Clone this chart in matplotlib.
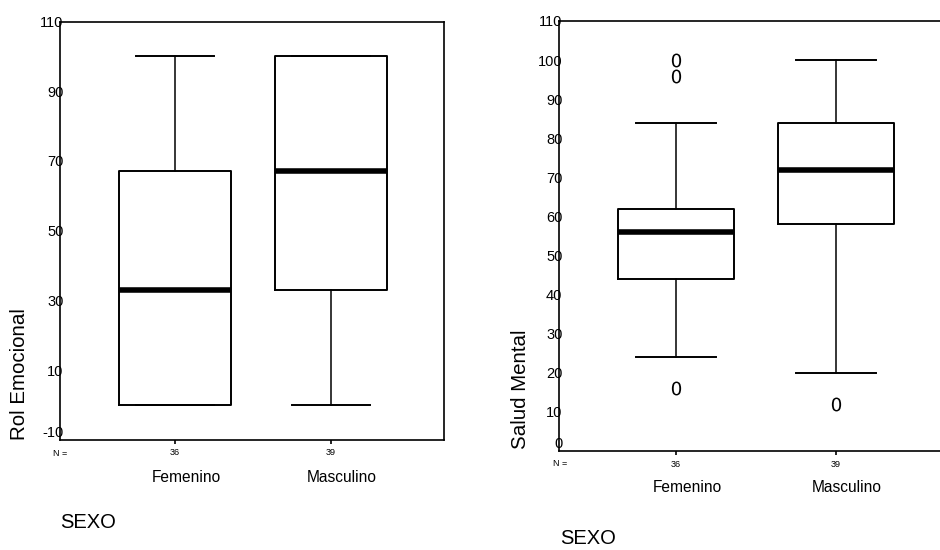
import matplotlib
matplotlib.use("Agg")
import matplotlib.pyplot as plt

plt.rcParams['font.family'] = ['Liberation Sans', 'DejaVu Sans']

categories = ["Femenino", "Masculino"]
n_counts = ["36", "39"]

# Rol Emocional box statistics
rol_q1 = [0, 33]
rol_med = [33, 67]
rol_q3 = [67, 100]
rol_lo = [0, 0]
rol_hi = [100, 100]
rol_fliers = [[], []]
rol_yticks = [-10, 10, 30, 50, 70, 90, 110]

# Salud Mental box statistics
sal_q1 = [44, 58]
sal_med = [56, 72]
sal_q3 = [62, 84]
sal_lo = [24, 20]
sal_hi = [84, 100]
sal_fliers = [[100, 96, 16], [12]]
sal_yticks = [0, 10, 20, 30, 40, 50, 60, 70, 80, 90, 100, 110]


def stats(q1, med, q3, lo, hi, fl):
    return [dict(q1=q1[i], med=med[i], q3=q3[i], whislo=lo[i], whishi=hi[i],
                 fliers=fl[i], label=categories[i]) for i in range(len(q1))]


fig = plt.figure(figsize=(9.4, 5.5), dpi=100)
W, H = 940, 550


def make_axes(l, r, t, b):
    return fig.add_axes([l / W, 1 - b / H, (r - l) / W, (b - t) / H])


ax1 = make_axes(60, 444, 21.5, 440)
ax2 = make_axes(559, 940, 21, 451)

common = dict(
    widths=0.72, capwidths=0.5, patch_artist=False,
    boxprops=dict(color='black', linewidth=1.4),
    medianprops=dict(color='black', linewidth=4),
    whiskerprops=dict(color='black', linewidth=1.1),
    capprops=dict(color='black', linewidth=1.4),
    flierprops=dict(marker='$0$', markersize=10, markerfacecolor='black',
                    markeredgecolor='black', markeredgewidth=0, linestyle='none'),
)

ax1.bxp(stats(rol_q1, rol_med, rol_q3, rol_lo, rol_hi, rol_fliers),
        positions=[1, 2], **common)
ax2.bxp(stats(sal_q1, sal_med, sal_q3, sal_lo, sal_hi, sal_fliers),
        positions=[1, 2], **common)

# x scale: categories at 1 and 2
ax1.set_xlim(1 - (175 - 60) / 156, 2 + (444 - 331) / 156)
ax1.set_ylim(-10, 110)
ax2.set_xlim(1 - (676 - 559) / 160, 2 + (940 - 836) / 160)
ax2.set_ylim(0, 110)

setup = ((ax1, rol_yticks, 3.0, 53, -13, -38), (ax2, sal_yticks, 3.5, 553, -12, -36))
for ax, yt, xpad, nx, ny, cy in setup:
    ax.set_yticks(yt)
    ax.set_yticklabels([str(v) for v in yt], fontsize=10.5)
    ax.tick_params(axis='y', length=0, pad=-2.5)
    ax.get_yticklabels()[0].set_verticalalignment('bottom')
    ax.set_xticks([1, 2])
    ax.set_xticklabels(n_counts, fontsize=6.5)
    ax.tick_params(axis='x', length=3, pad=xpad, width=1.2, direction='out')
    for s in ax.spines.values():
        s.set_linewidth(1.2)
    # category labels
    for i, c in enumerate(categories):
        ax.annotate(c, xy=(i + 1, 0), xycoords=('data', 'axes fraction'),
                    xytext=(11, cy), textcoords='offset pixels',
                    ha='center', va='center', fontsize=11.2)
    bbox = ax.get_position()
    ax.annotate("N =", xy=(nx / W, bbox.y0), xycoords='figure fraction',
                xytext=(0, ny), textcoords='offset pixels',
                ha='left', va='center', fontsize=6.5)

ax2.spines['right'].set_visible(False)

ax1.set_ylabel("Rol Emocional", fontsize=14.8)
ax1.yaxis.set_label_coords(-0.08, 0.158)
ax2.set_ylabel("Salud Mental", fontsize=14.8)
ax2.yaxis.set_label_coords(-0.076, 0.144)

fig.text(60 / W, 1 - 522 / H, "SEXO", fontsize=14.5, ha='left', va='center')
fig.text(560 / W, 1 - 539 / H, "SEXO", fontsize=14.5, ha='left', va='center')

fig.savefig("out.png", dpi=100)
